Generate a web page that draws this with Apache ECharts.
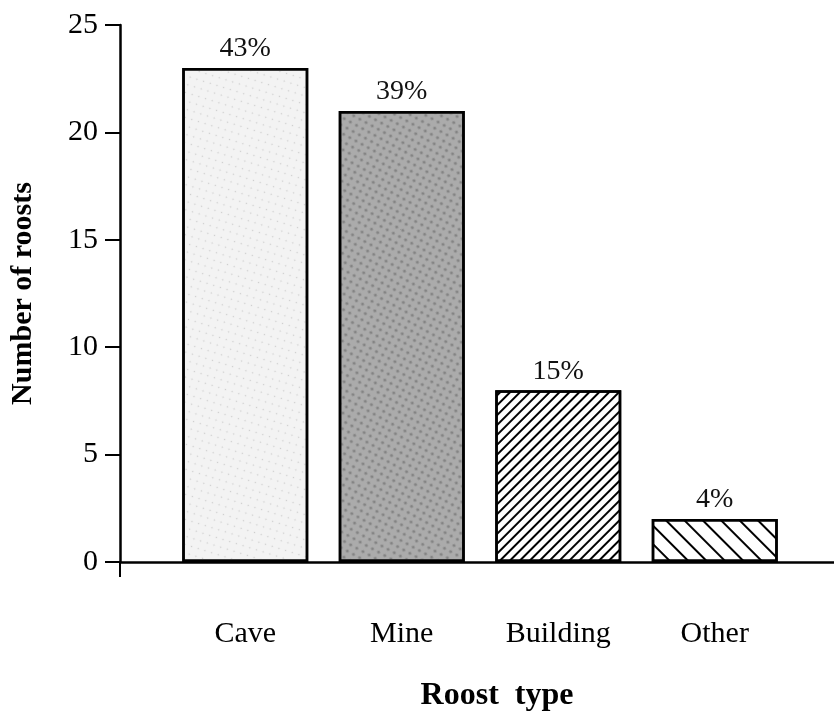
<!DOCTYPE html>
<html>
<head>
<meta charset="utf-8">
<script src="https://cdn.jsdelivr.net/npm/echarts@6/dist/echarts.min.js"></script>
<style>
  html, body { margin: 0; padding: 0; background: #fff; }
  #chart { width: 834px; height: 716px; }
</style>
</head>
<body>
<div id="chart"></div>
<script>
// data
var roostTypes = ["Cave", "Mine", "Building", "Other"];
var roostCounts = [23, 21, 8, 2];
var pctLabels = ["43%", "39%", "15%", "4%"];

var serif = "Liberation Serif";

// fill for each bar: plain stipple, mottled grey, two hatches
var barLooks = [
  { color: "#f3f3f3", decal: { symbol: "circle", symbolSize: 0.5, color: "rgba(120,120,120,0.3)", dashArrayX: [3, 4], dashArrayY: [3, 5], rotation: 0.3 } },
  { color: "#ababab", decal: { symbol: "circle", symbolSize: 0.8, color: "rgba(60,60,60,0.35)", dashArrayX: [4, 3], dashArrayY: [4, 3], rotation: 0.5 } },
  { color: "#ffffff", decal: { symbol: "rect", symbolSize: 1, color: "#000", dashArrayX: [1, 0], dashArrayY: [1.5, 5], rotation: -Math.PI / 4 } },
  { color: "#ffffff", decal: { symbol: "rect", symbolSize: 1, color: "#000", dashArrayX: [1, 0], dashArrayY: [1.6, 11], rotation: Math.PI / 4 } }
];

var chart = echarts.init(document.getElementById("chart"));

var barData = roostCounts.map(function (v, i) {
  return {
    value: v,
    itemStyle: { color: barLooks[i].color, decal: barLooks[i].decal }
  };
});

var option = {
  animation: false,
  backgroundColor: "#fff",
  grid: [
    // frame grid: carries the two axis lines
    { left: 120, right: 0, top: 25, bottom: 154, outerBoundsMode: "none" },
    // bar grid
    { left: 167, right: 41, top: 25, bottom: 154, outerBoundsMode: "none" }
  ],
  xAxis: [
    {
      gridIndex: 0,
      type: "value",
      min: 0,
      max: 1,
      interval: 1,
      axisLine: { show: true, lineStyle: { color: "#000", width: 2.5 } },
      axisTick: { show: true, length: 15, lineStyle: { color: "#000", width: 2 }, customValues: [0] },
      axisLabel: { show: false },
      splitLine: { show: false }
    },
    {
      gridIndex: 1,
      type: "category",
      data: roostTypes,
      axisLine: { show: false },
      axisTick: { show: false },
      axisLabel: { fontFamily: serif, fontSize: 30, color: "#000", margin: 57 },
      name: "Roost  type",
      nameLocation: "middle",
      nameGap: 118,
      nameTextStyle: { fontFamily: serif, fontSize: 32, fontWeight: "bold", color: "#000", padding: [0, 0, 0, 34] }
    }
  ],
  yAxis: [
    {
      gridIndex: 0,
      type: "value",
      min: 0,
      max: 25,
      interval: 5,
      axisLine: { show: true, lineStyle: { color: "#000", width: 2.5 } },
      axisTick: { show: true, length: 15, lineStyle: { color: "#000", width: 2 } },
      axisLabel: { fontFamily: serif, fontSize: 30, color: "#000", margin: 22 },
      splitLine: { show: false },
      name: "Number of roosts",
      nameLocation: "middle",
      nameGap: 82,
      nameRotate: 90,
      nameTextStyle: { fontFamily: serif, fontSize: 30, fontWeight: "bold", color: "#000" }
    },
    {
      gridIndex: 1,
      type: "value",
      min: 0,
      max: 25,
      show: false
    }
  ],
  series: [
    {
      type: "bar",
      xAxisIndex: 1,
      yAxisIndex: 1,
      barCategoryGap: "19.5%",
      data: barData,
      itemStyle: { borderColor: "#000", borderWidth: 2.5 },
      label: {
        show: true,
        position: "top",
        distance: 5,
        fontFamily: serif,
        fontSize: 28,
        color: "#111",
        formatter: function (p) { return pctLabels[p.dataIndex]; }
      }
    }
  ]
};

chart.setOption(option);
</script>
</body>
</html>
